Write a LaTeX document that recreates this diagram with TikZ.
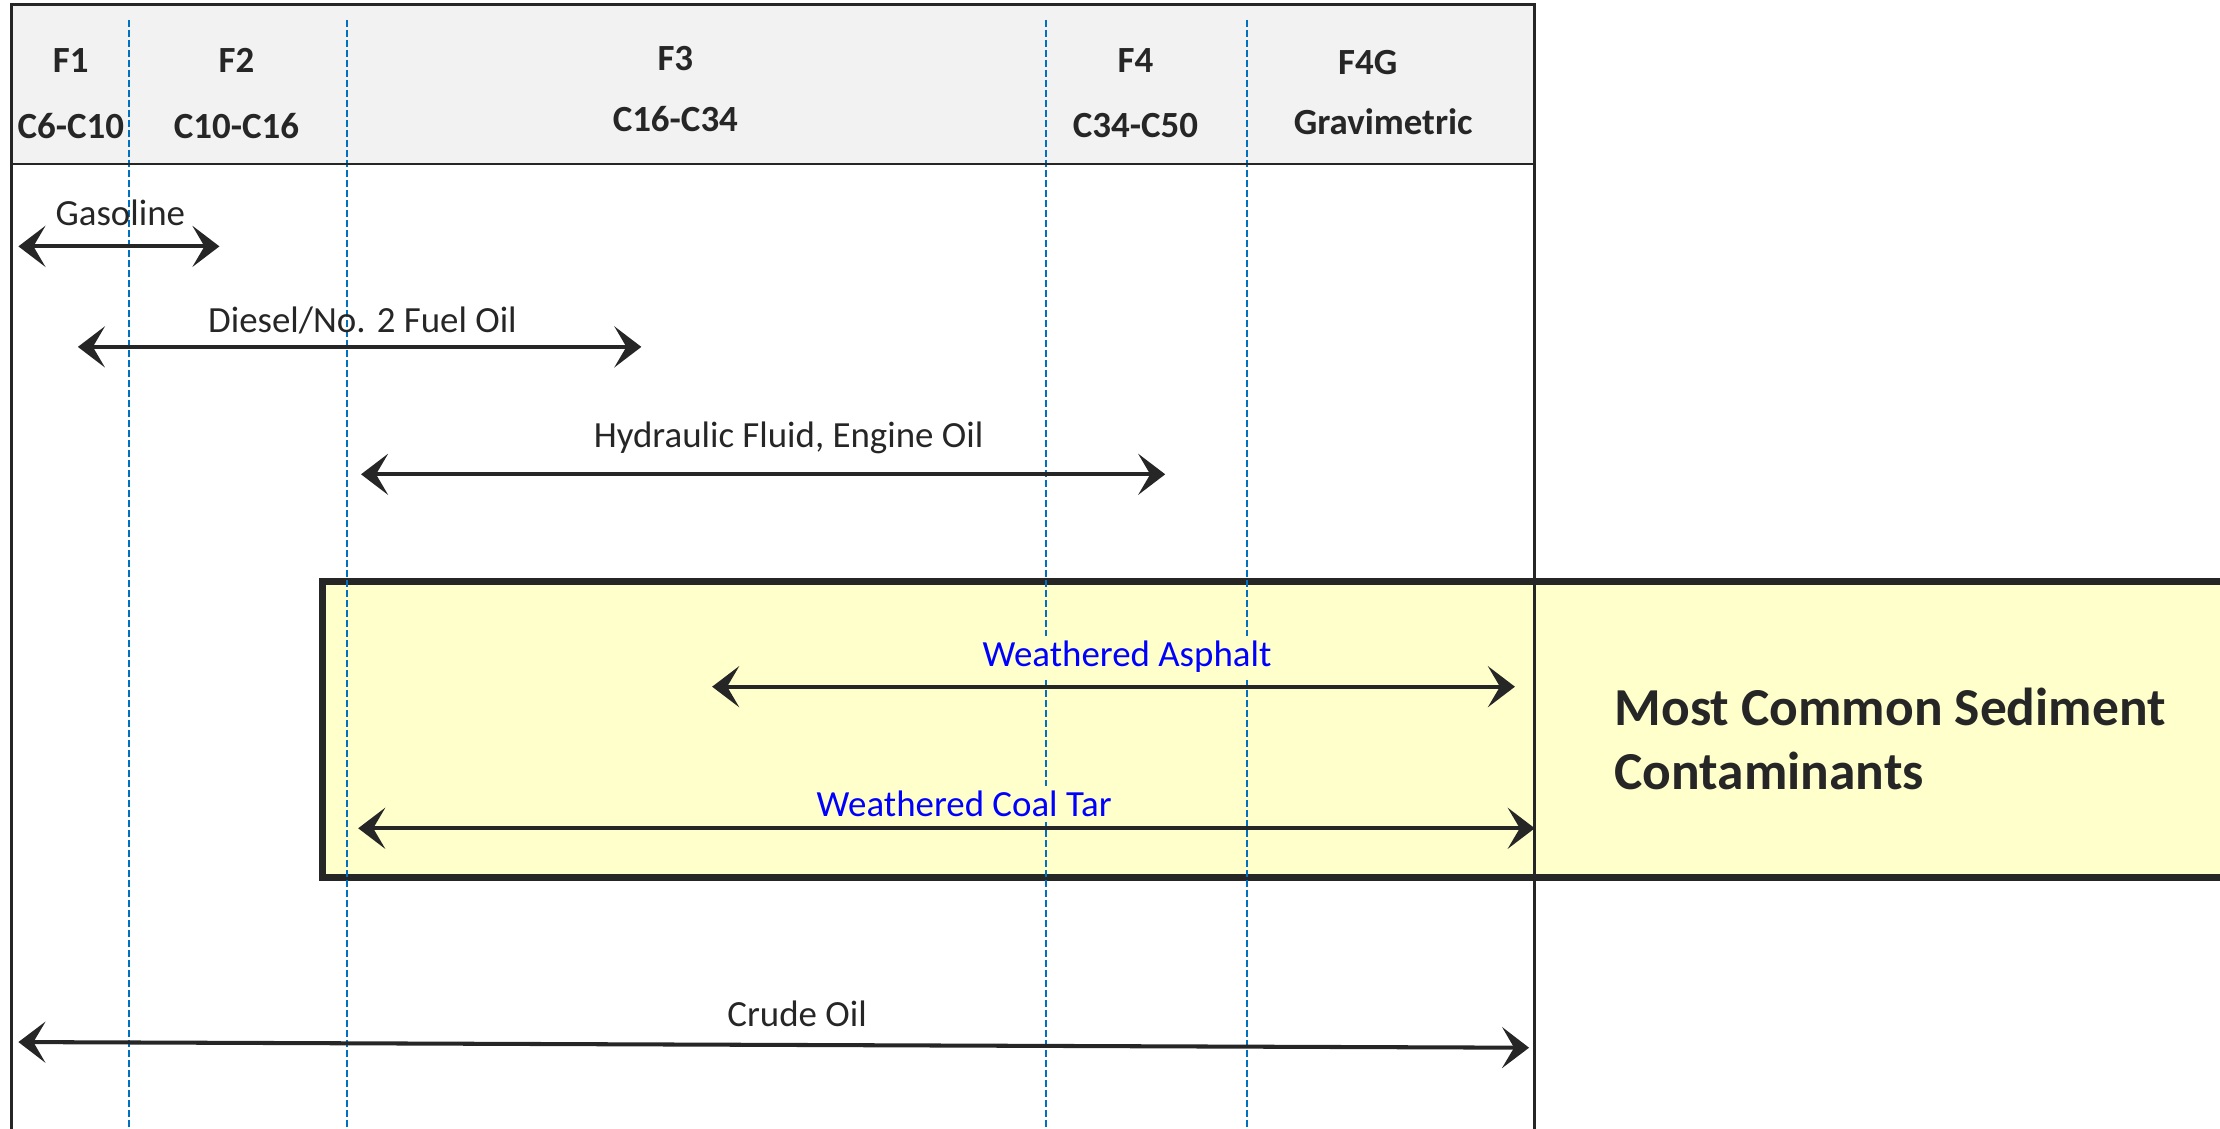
\documentclass[tikz,border=0pt]{standalone}
\usepackage{fontspec}
\setmainfont{Carlito}
\usetikzlibrary{arrows.meta}
\definecolor{hdrgray}{HTML}{F2F2F2}
\definecolor{ylw}{HTML}{FFFFCC}
\definecolor{guideblue}{HTML}{0070C0}
\definecolor{ink}{HTML}{262626}
\begin{document}
\begin{tikzpicture}[x=0.014158cm, y=-0.014158cm,
  lbl/.style={font=\fontsize{10.5}{12}\selectfont, text=ink, inner sep=1pt},
  hd/.style={font=\bfseries\fontsize{10.5}{12}\selectfont, text=ink, inner sep=1pt},
  bl/.style={font=\fontsize{10.5}{12}\selectfont, text=blue, fill=ylw, inner sep=1.5pt},
  rng/.style={{Stealth[length=0.27cm,width=0.41cm,inset=0.12cm]}-{Stealth[length=0.27cm,width=0.41cm,inset=0.12cm]}, line width=1.15pt, draw=ink},
  guide/.style={draw=guideblue, line width=0.55pt, dash pattern=on 0.07cm off 0.03cm},
  frameline/.style={draw=ink, line width=0.9pt}]
\useasboundingbox (0,0) rectangle (1568,797);
\clip (0,0) rectangle (1568,797);
% header band
\fill[hdrgray] (8,3) rectangle (1084,116);
% highlight box
\draw[fill=ylw, draw=ink, line width=2pt] (228,411) rectangle (1590,620);
% guide lines
\foreach \gx in {91,245,739,881}{\draw[guide] (\gx,14) -- (\gx,800);}
% frame
\draw[frameline] (8,800) -- (8,3) -- (1084,3) -- (1084,800);
\draw[draw=ink, line width=0.7pt] (8,116) -- (1084,116);
% header texts
\node[hd] (f1) at (50,43) {F1};
\node[hd] (c1) at (50,89) {C6-C10};
\node[hd] (f2) at (167,43) {F2};
\node[hd] (c2) at (167,89) {C10-C16};
\node[hd] (f3) at (477,41) {F3};
\node[hd] (c3) at (477,84) {C16-C34};
\node[hd] (f4) at (802,43) {F4};
\node[hd] (c4) at (802,89) {C34-C50};
\node[hd] (f4g) at (966,44) {F4G};
\node[hd] (grav) at (977,86) {Gravimetric};
% ranges
\coordinate (gasL) at (13,174);  \coordinate (gasR) at (155,174);
\coordinate (dieL) at (55,245);  \coordinate (dieR) at (453,245);
\coordinate (hydL) at (255,335); \coordinate (hydR) at (823,335);
\coordinate (aspL) at (503,485); \coordinate (aspR) at (1070,485);
\coordinate (tarL) at (253,585); \coordinate (tarR) at (1084,585);
\coordinate (cruL) at (13,736);  \coordinate (cruR) at (1080,740);
\draw[rng] (gasL) -- (gasR);
\draw[rng] (dieL) -- (dieR);
\draw[rng] (hydL) -- (hydR);
\draw[rng] (aspL) -- (aspR);
\draw[rng] (tarL) -- (tarR);
\draw[rng] (cruL) -- (cruR);
\node[lbl] (gas) at (85,150) {Gasoline};
\node[lbl] (die) at (256,226) {Diesel/No. 2 Fuel Oil};
\node[lbl] (hyd) at (557,309) {Hydraulic Fluid, Engine Oil};
\node[bl] (asp) at (796,464) {Weathered Asphalt};
\node[bl] (tar) at (681,568) {Weathered Coal Tar};
\node[lbl] (cru) at (563,716) {Crude Oil};
\node[anchor=west, align=left, text=ink, inner sep=0pt,
  font=\bfseries\fontsize{15.2}{18.1}\selectfont] (most) at (1140,522)
  {Most Common Sediment\\Contaminants};
\end{tikzpicture}
\end{document}
